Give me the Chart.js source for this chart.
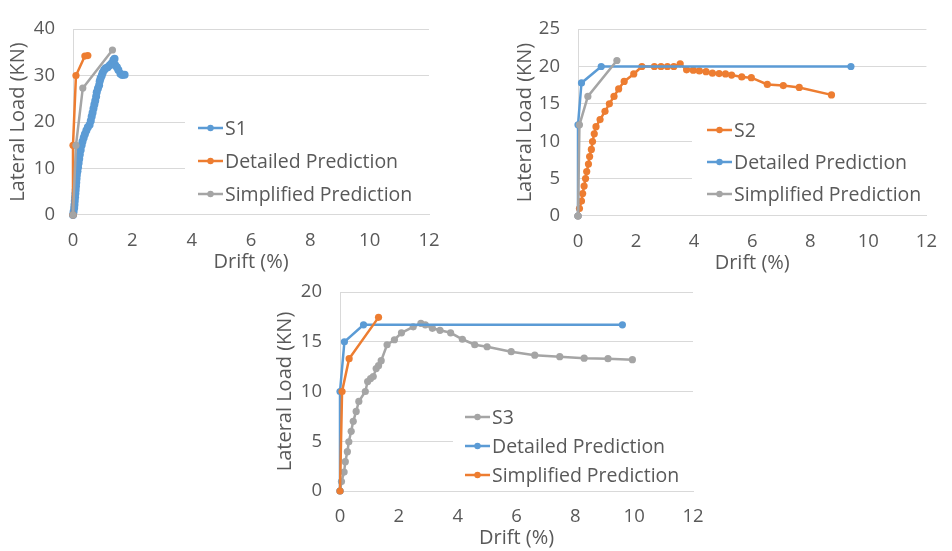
<!DOCTYPE html>
<html>
<head>
<meta charset="utf-8">
<script src="https://cdn.jsdelivr.net/npm/chart.js@4/dist/chart.umd.min.js"></script>
<style>
  html, body { margin: 0; padding: 0; background: #fff; }
  #wrap { position: relative; width: 952px; height: 551px; }
  #wrap canvas { position: absolute; left: 0; top: 0; }
</style>
</head>
<body>
<div id="wrap">
  <canvas id="c1" width="952" height="551"></canvas>
  <canvas id="c2" width="952" height="551"></canvas>
  <canvas id="c3" width="952" height="551"></canvas>
</div>
<script>
// ---- S1 chart ----
const s1Drift = [0, 0.02, 0.04, 0.05, 0.06, 0.07, 0.08, 0.09, 0.1, 0.11, 0.12, 0.13, 0.15, 0.17, 0.19, 0.21, 0.23, 0.26, 0.29, 0.32, 0.36, 0.4, 0.45, 0.5, 0.56, 0.6, 0.63, 0.66, 0.69, 0.72, 0.75, 0.78, 0.8, 0.84, 0.88, 0.9, 0.93, 0.97, 1.0, 1.05, 1.1, 1.17, 1.24, 1.3, 1.36, 1.4, 1.42, 1.48, 1.53, 1.6, 1.66, 1.74];
const s1Load = [0, 0.7, 1.5, 2.2, 3, 3.8, 4.6, 5.4, 6.2, 7, 7.8, 8.6, 9.4, 10.3, 11.2, 12.1, 13, 14, 15, 15.8, 16.6, 17.4, 18.2, 18.9, 19.4, 20.3, 21.2, 22, 22.9, 23.8, 24.6, 25.5, 26.4, 27.2, 27.9, 28.8, 29.4, 30, 30.6, 31.2, 31.6, 31.8, 32.2, 32.6, 33.3, 33.6, 32.3, 31.8, 31.2, 30.4, 30.1, 30.2];
const c1DetDrift = [0, 0, 0.1, 0.4, 0.5];
const c1DetLoad = [0, 15, 30, 34.2, 34.3];
const c1SimDrift = [0, 0.1, 0.33, 1.33];
const c1SimLoad = [0, 15, 27.3, 35.5];

// ---- S2 chart ----
const s2Drift = [0, 0.05, 0.12, 0.16, 0.21, 0.26, 0.3, 0.36, 0.4, 0.46, 0.5, 0.56, 0.62, 0.76, 0.93, 1.08, 1.24, 1.4, 1.59, 1.92, 2.2, 2.63, 2.86, 3.08, 3.3, 3.52, 3.74, 3.97, 4.18, 4.41, 4.63, 4.86, 5.08, 5.29, 5.64, 5.97, 6.52, 7.07, 7.62, 8.73];
const s2Load = [0, 1, 2, 3, 4, 5, 5.95, 6.95, 7.95, 8.9, 9.95, 11, 11.95, 12.9, 14, 15, 16, 17, 18, 19, 20, 20, 20, 20, 20, 20.35, 19.55, 19.5, 19.4, 19.3, 19.1, 19.05, 19, 18.85, 18.6, 18.5, 17.6, 17.45, 17.2, 16.2];
const c2DetDrift = [0, 0, 0.12, 0.8, 9.4];
const c2DetLoad = [0, 12.2, 17.8, 20, 20];
const c2SimDrift = [0, 0.05, 0.34, 1.34];
const c2SimLoad = [0, 12.2, 16, 20.8];

// ---- S3 chart ----
const s3Drift = [0, 0.05, 0.14, 0.18, 0.25, 0.3, 0.38, 0.45, 0.55, 0.64, 0.86, 0.94, 1.04, 1.13, 1.23, 1.31, 1.4, 1.6, 1.85, 2.09, 2.49, 2.75, 2.9, 3.14, 3.4, 3.76, 4.16, 4.58, 5.0, 5.82, 6.62, 7.47, 8.3, 9.11, 9.94];
const s3Load = [0, 0.95, 1.9, 2.95, 3.95, 4.95, 6, 7, 8, 9, 10, 11, 11.3, 11.5, 12.3, 12.6, 13.1, 14.7, 15.2, 15.9, 16.5, 16.85, 16.7, 16.35, 16.15, 15.9, 15.25, 14.7, 14.5, 14.0, 13.65, 13.5, 13.35, 13.3, 13.2];
const c3DetDrift = [0, 0, 0.15, 0.8, 9.6];
const c3DetLoad = [0, 10, 15, 16.7, 16.7];
const c3SimDrift = [0, 0.07, 0.31, 1.31];
const c3SimLoad = [0, 10, 13.3, 17.45];

const BLUE = '#5B9BD5', ORANGE = '#ED7D31', GRAY = '#A5A5A5';
const TEXT = '#595959', GRID = '#D9D9D9';
const FAMILY = '"Open Sans", sans-serif';
const FS = 18.5;

function pts(xs, ys) { return xs.map((x, i) => ({ x: x, y: ys[i] })); }

function series(label, xs, ys, color, order, r) {
  return {
    label: label,
    data: pts(xs, ys),
    showLine: true,
    clip: false,
    borderColor: color,
    backgroundColor: color,
    borderWidth: 2.5,
    pointRadius: r || 3.6,
    pointBorderWidth: 0,
    pointBackgroundColor: color,
    order: order
  };
}

// white legend box behind the lines, legend entries on top
const boxLegend = {
  id: 'boxLegend',
  beforeDatasetsDraw(chart, args, opts) {
    const ctx = chart.ctx;
    ctx.save();
    ctx.fillStyle = '#fff';
    ctx.fillRect(opts.box[0], opts.box[1], opts.box[2] - opts.box[0], opts.box[3] - opts.box[1]);
    ctx.restore();
  },
  afterDraw(chart, args, opts) {
    const ctx = chart.ctx;
    ctx.save();
    chart.data.datasets.forEach((ds, i) => {
      const y = opts.y + i * opts.gap;
      ctx.strokeStyle = ds.borderColor;
      ctx.lineWidth = 2.5;
      ctx.beginPath();
      ctx.moveTo(opts.x, y);
      ctx.lineTo(opts.x + 25, y);
      ctx.stroke();
      ctx.fillStyle = ds.borderColor;
      ctx.beginPath();
      ctx.arc(opts.x + 12.5, y, 3.2, 0, Math.PI * 2);
      ctx.fill();
      ctx.fillStyle = TEXT;
      ctx.font = '19.5px ' + FAMILY;
      ctx.textBaseline = 'middle';
      ctx.fillText(ds.label, opts.x + 27, y + 1);
    });
    ctx.restore();
  }
};

function makeChart(id, area, yMax, yStep, yW, datasets, legend) {
  const xH = 59;
  new Chart(document.getElementById(id), {
    type: 'scatter',
    data: { datasets: datasets },
    plugins: [boxLegend],
    options: {
      responsive: false,
      animation: false,
      layout: {
        padding: { left: area[0] - yW, top: area[1], right: 952 - area[2], bottom: 551 - area[3] - xH }
      },
      plugins: { legend: { display: false }, tooltip: { enabled: false }, boxLegend: legend },
      scales: {
        x: {
          type: 'linear', min: 0, max: 12,
          ticks: { stepSize: 2, color: TEXT, font: { size: FS, family: FAMILY }, padding: 15 },
          grid: { display: false, drawTicks: false },
          border: { display: true, color: GRID },
          title: { display: true, text: 'Drift (%)', color: TEXT, font: { size: 20, family: FAMILY }, padding: 0 },
          afterFit(s) { s.height = xH; }
        },
        y: {
          min: 0, max: yMax,
          ticks: { stepSize: yStep, color: TEXT, font: { size: FS, family: FAMILY }, padding: 18 },
          grid: { color: GRID, drawTicks: false },
          border: { display: true, color: GRID },
          title: { display: true, text: 'Lateral Load (KN)', color: TEXT, font: { size: 20, family: FAMILY }, padding: 0 },
          afterFit(s) { s.width = yW; }
        }
      }
    }
  });
}

makeChart('c1', [73, 15, 429, 215], 40, 10, 67, [
  series('S1', s1Drift, s1Load, BLUE, 3, 4),
  series('Detailed Prediction', c1DetDrift, c1DetLoad, ORANGE, 2),
  series('Simplified Prediction', c1SimDrift, c1SimLoad, GRAY, 1)
], { box: [185, 110, 429, 211], x: 198, y: 128, gap: 33 });

makeChart('c2', [578, 15, 938, 216], 25, 5, 65, [
  series('S2', s2Drift, s2Load, ORANGE, 3),
  series('Detailed Prediction', c2DetDrift, c2DetLoad, BLUE, 2),
  series('Simplified Prediction', c2SimDrift, c2SimLoad, GRAY, 1)
], { box: [692, 112, 938, 212], x: 707, y: 130, gap: 32 });

makeChart('c3', [340, 292, 693, 491], 20, 5, 67, [
  series('S3', s3Drift, s3Load, GRAY, 3),
  series('Detailed Prediction', c3DetDrift, c3DetLoad, BLUE, 2),
  series('Simplified Prediction', c3SimDrift, c3SimLoad, ORANGE, 1)
], { box: [453, 400, 693, 487], x: 465, y: 417, gap: 29 });
</script>
</body>
</html>
